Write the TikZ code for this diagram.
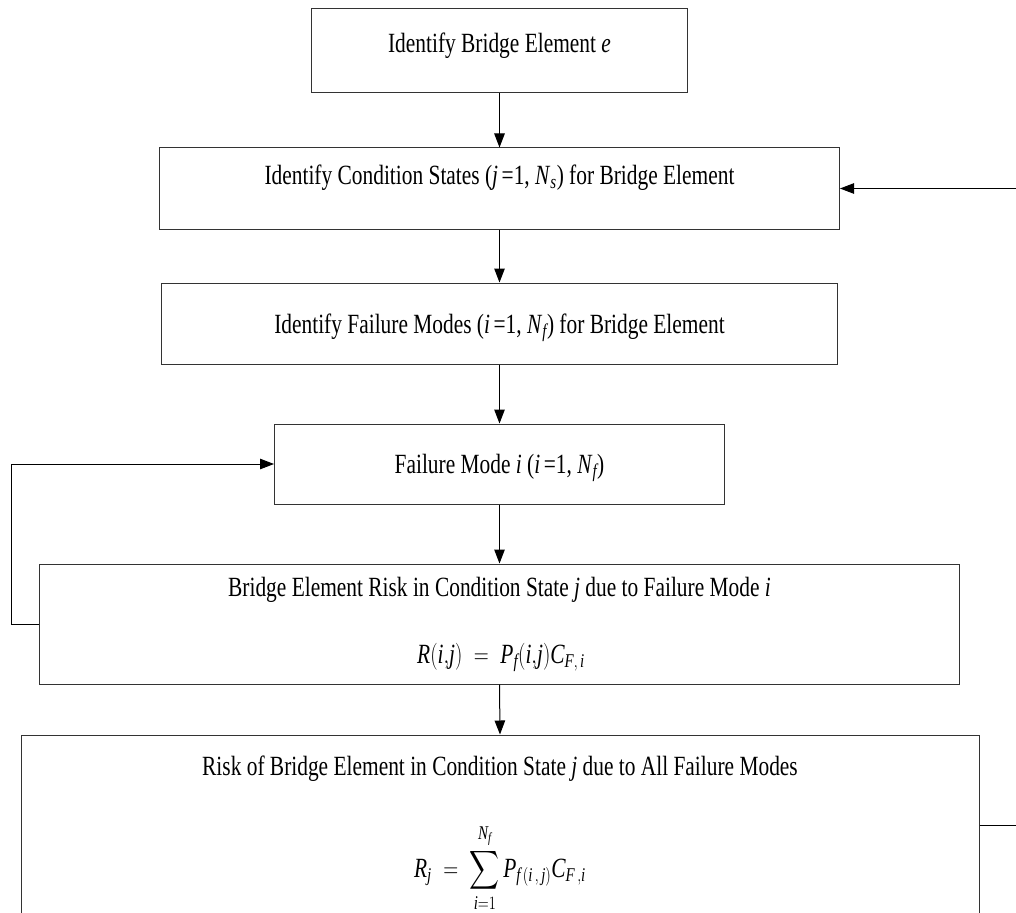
\documentclass[tikz,border=0pt]{standalone}
\usepackage{fontspec}
\setmainfont{Liberation Serif}
\usepackage{amsmath}
\usepackage{graphicx}
\usetikzlibrary{arrows.meta}
% italic variable names in the serif text face
\newcommand\mv[1]{\textit{#1}}
% the lettering of this chart is set a little tall
\newcommand\tall[1]{\scalebox{1}[1.3]{#1}}

\begin{document}
\begin{tikzpicture}[x=1pt,y=-1pt,
  box/.style={draw=black!80, line width=1pt, inner sep=0pt},
  txt/.style={anchor=base, inner sep=0pt, font=\fontsize{21.4}{26}\selectfont},
  link/.style={draw=black, line width=1pt},
  arr/.style={link, -{Triangle[length=14pt,width=10.5pt]}}]

\useasboundingbox (0,0) rectangle (1016,912);

% process boxes
\node[box, minimum width=376pt, minimum height=84pt]  (b1) at (499.5,51)    {};
\node[box, minimum width=680pt, minimum height=81pt]  (b2) at (499.5,188.5) {};
\node[box, minimum width=676pt, minimum height=81pt]  (b3) at (499.5,323.5) {};
\node[box, minimum width=450pt, minimum height=80pt]  (b4) at (499.5,464)   {};
\node[box, minimum width=920pt, minimum height=120pt] (b5) at (499.5,624)   {};
\node[box, minimum width=958pt, minimum height=180pt] (b6) at (500,825)     {};

% box texts
\node[txt] (t1) at (499.5,53) {\tall{Identify Bridge Element \mv{e}}};
\node[txt] (t2) at (499.5,184) {\tall{Identify Condition States (\mv{j}\,=1, \mv{N}$_{\mv{s}}$) for Bridge Element}};
\node[txt] (t3) at (499.5,333) {\tall{Identify Failure Modes (\mv{i}\,=1, \mv{N}$_{\mv{f}}$) for Bridge Element}};
\node[txt] (t4) at (499.5,473) {\tall{Failure Mode \mv{i} (\mv{i}\,=1, \mv{N}$_{\mv{f}}$)}};
\node[txt] (t5a) at (499.5,596) {\tall{Bridge Element Risk in Condition State \mv{j} due to Failure Mode \mv{i}}};
\node[txt] (t5b) at (501,663) {\tall{$\mv{R}(\mv{i}{,}\mv{j}) \;=\; \mv{P}_{\mv{f}}(\mv{i}{,}\mv{j})\mv{C}_{\mv{F},\,\mv{i}}$}};
\node[txt] (t6a) at (500,775) {\tall{Risk of Bridge Element in Condition State \mv{j} due to All Failure Modes}};
\node[txt] (t6b) at (500,877) {\tall{$\displaystyle \mv{R}_{\mv{j}} \;=\; \sum_{\mv{i}=1}^{\mv{N}_{\mv{f}}} \mv{P}_{\mv{f}\,(\mv{i}\,,\,\mv{j})}\mv{C}_{\mv{F}\,,\mv{i}}$}};

% free ends of the return lines at the right edge
\coordinate (e1) at (1016,825);
\coordinate (e2) at (1016,188.5);

% main flow
\draw[arr] (b1.south) -- (b2.north);
\draw[arr] (b2.south) -- (b3.north);
\draw[arr] (b3.south) -- (b4.north);
\draw[arr] (b4.south) -- (b5.north);
\draw[arr] (b5.south) -- (b6.north);

% loop over failure modes
\draw[arr] (b5.west) -- ++(-28,0) |- (b4.west);

% loop over condition states
\draw[link] (b6.east) -- (e1);
\draw[arr] (e2) -- (b2.east);
\end{tikzpicture}
\end{document}
